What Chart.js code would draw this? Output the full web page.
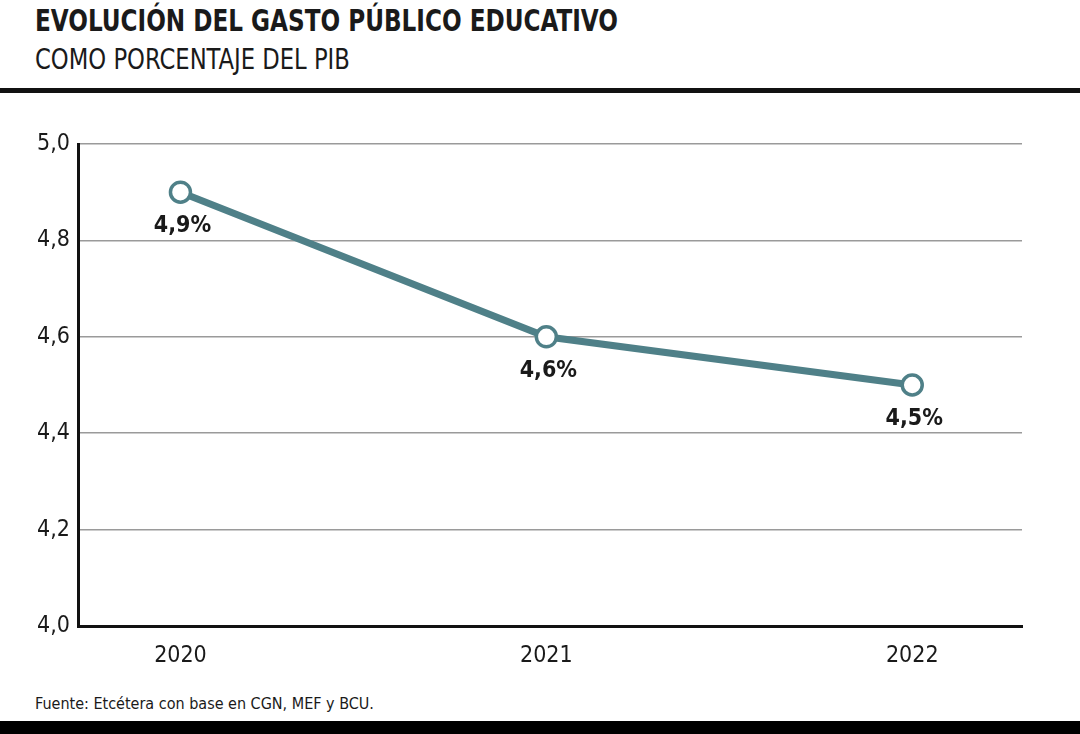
<!DOCTYPE html>
<html><head><meta charset="utf-8">
<script src="https://cdn.jsdelivr.net/npm/chart.js@4/dist/chart.umd.min.js"></script>
<style>
html,body{margin:0;padding:0;background:#fff;width:1080px;height:734px;overflow:hidden;font-family:"Liberation Sans Narrow","DejaVu Sans Condensed",sans-serif;}
#title{position:absolute;left:35px;top:2px;font-size:31px;font-weight:bold;color:#1a1a1a;transform:scaleX(0.83);transform-origin:0 0;white-space:nowrap;}
#sub{position:absolute;left:35px;top:42px;font-size:29px;color:#1a1a1a;transform:scaleX(0.87);transform-origin:0 0;white-space:nowrap;}
#rule{position:absolute;left:0;top:88px;width:1080px;height:5px;background:#111;}
#src{position:absolute;left:35px;top:694px;font-size:16px;color:#1a1a1a;font-weight:500;}
#bar{position:absolute;left:0;top:721px;width:1080px;height:13px;background:#000;}
#wrap{position:absolute;left:0;top:100px;width:1080px;height:590px;}
</style></head><body>
<div id="title">EVOLUCIÓN DEL GASTO PÚBLICO EDUCATIVO</div>
<div id="sub">COMO PORCENTAJE DEL PIB</div>
<div id="rule"></div>
<div id="wrap"><canvas id="c"></canvas></div>
<div id="src">Fuente: Etcétera con base en CGN, MEF y BCU.</div>
<div id="bar"></div>
<script>
const years = [2020, 2021, 2022];
const gasto = [4.9, 4.6, 4.5];
const labels = ["4,9%", "4,6%", "4,5%"];
const yTicks = [4.0, 4.2, 4.4, 4.6, 4.8, 5.0];
const FONT = '"Liberation Sans Narrow","DejaVu Sans Condensed",sans-serif';
const teal = '#4f8088';

const labelPlugin = {
  id: 'valLabels',
  afterDatasetsDraw(chart) {
    const ctx = chart.ctx;
    const meta = chart.getDatasetMeta(0);
    ctx.save();
    ctx.font = 'bold 23px ' + FONT;
    ctx.fillStyle = '#1a1a1a';
    ctx.textAlign = 'center';
    ctx.textBaseline = 'middle';
    meta.data.forEach((pt, i) => {
      ctx.fillText(labels[i], pt.x + 2, pt.y + 34);
    });
    ctx.restore();
  }
};

new Chart(document.getElementById('c'), {
  type: 'line',
  data: {
    datasets: [{
      data: years.map((y, i) => ({x: y, y: gasto[i]})),
      borderColor: teal,
      borderWidth: 7,
      pointRadius: 10,
      pointBorderWidth: 3.5,
      pointBackgroundColor: '#fff',
      pointBorderColor: teal,
      tension: 0
    }]
  },
  options: {
    responsive: true,
    maintainAspectRatio: false,
    animation: false,
    layout: {padding: {left: 0, right: 58, top: 44, bottom: 0}},
    plugins: {legend: {display: false}, tooltip: {enabled: false}},
    scales: {
      x: {
        type: 'linear',
        min: 2019.72,
        max: 2022.30,
        afterBuildTicks: s => { s.ticks = years.map(v => ({value: v})); },
        afterFit: s => { s.height = 64; },
        grid: {display: false, drawTicks: false},
        border: {display: true, color: '#111', width: 3},
        ticks: {
          padding: 16,
          color: '#1a1a1a',
          font: {family: FONT, size: 23},
          callback: v => String(v)
        }
      },
      y: {
        min: 4.0,
        max: 5.0,
        afterBuildTicks: s => { s.ticks = yTicks.map(v => ({value: v})); },
        afterFit: s => { s.width = 78; },
        grid: {color: '#9a9a9a', lineWidth: 1.5, drawTicks: false},
        border: {display: true, color: '#111', width: 3},
        ticks: {
          padding: 8,
          color: '#1a1a1a',
          font: {family: FONT, size: 23},
          callback: v => v.toFixed(1).replace('.', ',')
        }
      }
    }
  },
  plugins: [labelPlugin]
});
</script>
</body></html>
